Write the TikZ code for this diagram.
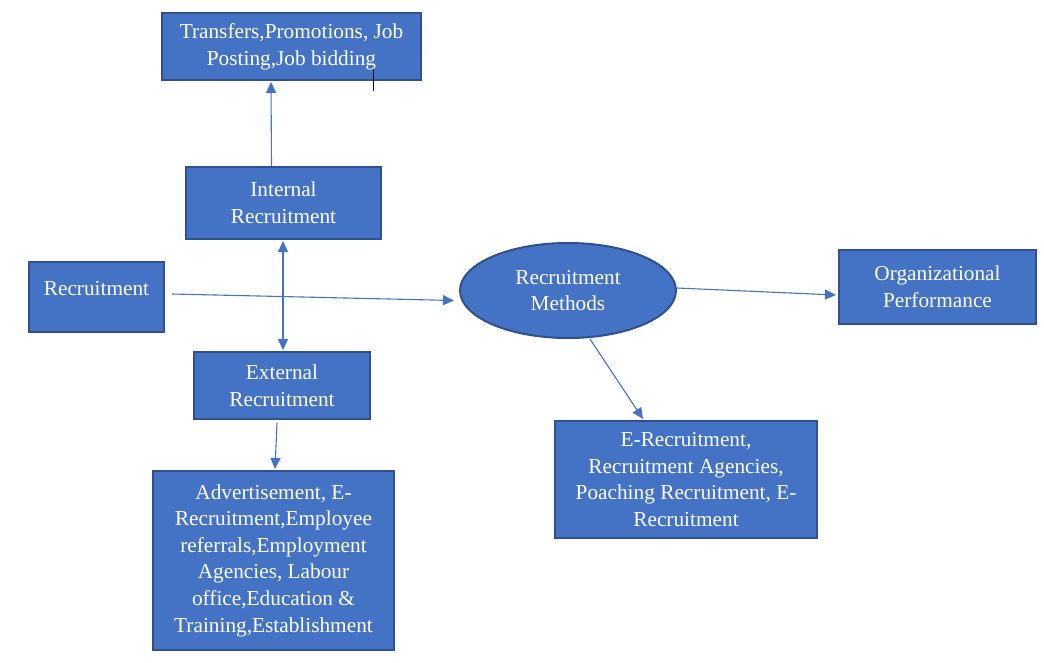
\documentclass[tikz,border=0pt]{standalone}
\usepackage{fontspec}
\setmainfont{Liberation Serif}
\usetikzlibrary{arrows.meta,shapes.geometric,calc}
\definecolor{boxfill}{HTML}{4472C4}
\definecolor{boxline}{HTML}{2F528F}
\begin{document}
\begin{tikzpicture}[x=1pt,y=-1pt,
  box/.style={draw=boxline,line width=2pt,fill=boxfill,text=white,align=center,
    inner sep=0pt,font=\fontsize{21.3}{26.6}\selectfont},
  conn/.style={draw=boxfill,line width=1.1pt,-{Triangle[length=11pt,width=10pt]}},
  dconn/.style={draw=boxfill,line width=1.1pt,{Triangle[length=11pt,width=10pt]}-{Triangle[length=11pt,width=10pt]}}]
\useasboundingbox[fill=white] (0,0) rectangle (1044,662);

\node[box,minimum width=259pt,minimum height=67pt] (top) at (291.5,46.5)
  {Transfers,Promotions, Job\\Posting,Job bidding};
\node[box,minimum width=195pt,minimum height=72pt] (int) at (283.5,203)
  {Internal\\Recruitment};
\node[box,minimum width=135pt,minimum height=70pt,text depth=18pt] (recr) at (96.5,297)
  {Recruitment};
\node[box,minimum width=176pt,minimum height=67pt] (ext) at (282,385.5)
  {External\\Recruitment};
\node[box,minimum width=241pt,minimum height=179pt] (adv) at (273.5,560.5)
  {Advertisement, E-\\Recruitment,Employee\\referrals,Employment\\Agencies, Labour\\office,Education \&\\Training,Establishment};
\node[box,ellipse,minimum width=216pt,minimum height=95pt] (meth) at (568,290.5)
  {Recruitment\\Methods};
\node[box,minimum width=197pt,minimum height=74pt] (org) at (937.5,287)
  {Organizational\\Performance};
\node[box,minimum width=262pt,minimum height=117pt] (erec) at (686,479.5)
  {E-Recruitment,\\Recruitment Agencies,\\Poaching Recruitment, E-\\Recruitment};

\draw[conn] ($(int.north)+(-12,0)$) -- ($(top.south)+(-20.5,1)$);
\draw[dconn] ($(int.south)+(-0.5,1)$) -- ($(ext.north)+(1,-1)$);
\draw[conn] ($(recr.east)+(7,-3)$) -- ($(meth.west)+(-5,10)$);
\draw[conn] ($(ext.south)+(-5,3)$) -- ($(adv.north)+(1.5,-1)$);
\draw[conn] ($(meth.south)+(22,0)$) -- ($(erec.north)+(-43,-1)$);
\draw[conn] ($(meth.east)+(0,-2.5)$) -- ($(org.west)+(-2,8)$);

\coordinate (tickA) at (373,69);
\coordinate (tickB) at (373,91);
\draw[black,line width=0.8pt] (tickA) -- (tickB);
\end{tikzpicture}
\end{document}
